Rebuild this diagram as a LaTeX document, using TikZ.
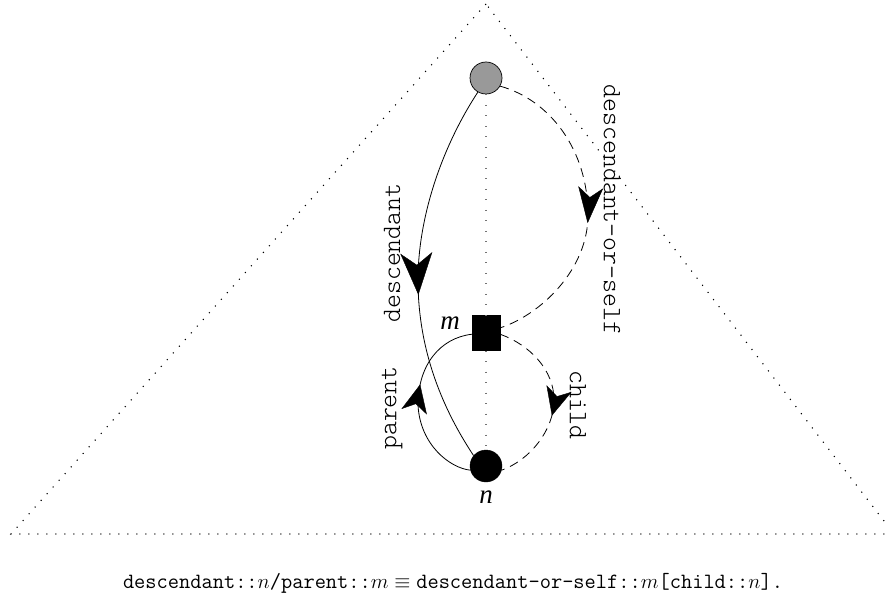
\documentclass[tikz,border=0pt]{standalone}
\usepackage{fontspec}
\newfontfamily\varfont{Liberation Serif}
\usetikzlibrary{arrows.meta,decorations.markings}

\tikzset{
  outline/.style={line width=1.1pt, dash pattern=on 1.1pt off 7.9pt},
  spine/.style={draw=black!55, line width=1.1pt, dash pattern=on 1.1pt off 9.4pt},
  axisedge/.style={line width=0.8pt},
  impliededge/.style={line width=0.8pt, dash pattern=on 9pt off 6pt},
  axislabel/.style={font=\ttfamily\fontseries{l}\selectfont\fontsize{26.5}{28}\selectfont, inner sep=0pt},
  varlabel/.style={font=\varfont\itshape\fontsize{27}{29}\selectfont, inner sep=0pt},
  bigtip/.style={decoration={markings, mark=at position #1 with {\arrow{Stealth[length=42pt,width=32pt,inset=12pt]}}}, decorate},
  midtip/.style={decoration={markings, mark=at position #1 with {\arrow{Stealth[length=36pt,width=25pt,inset=10pt]}}}, decorate},
  smalltip/.style={decoration={markings, mark=at position #1 with {\arrow{Stealth[length=28pt,width=26pt,inset=8pt]}}}, decorate},
}

\begin{document}
\begin{tikzpicture}[x=1pt, y=-1pt]
\useasboundingbox (0,0) rectangle (888,612);

% the tree outline
\begin{scope}
  \clip (0,0) rectangle (888,612);
  \draw[outline] (486,4) -- (11,534) -- (894,534) -- cycle;
\end{scope}

% the three nodes
\node[circle, draw, line width=0.7pt, fill=black!40, minimum size=32pt, inner sep=0pt] (top) at (486,78) {};
\node[draw, fill=black, minimum width=28pt, minimum height=35pt, inner sep=0pt] (m) at (486,333) {};
\node[circle, draw, fill=black, minimum size=32pt, inner sep=0pt] (n) at (486,466) {};

% vertical path from the root down to n
\draw[spine] (top.south) -- (m.north);
\draw[spine] (m.south) -- (n.north);

% descendant
\draw[axisedge] (top.240) .. controls (440,150) and (418,220) .. (418,280)
  .. controls (418,360) and (450,420) .. (n.140);
\path[bigtip=0.555] (top.240) .. controls (440,150) and (418,220) .. (418,280)
  .. controls (418,360) and (450,420) .. (n.140);

% descendant-or-self
\draw[impliededge] (top.-30) .. controls (550,100) and (588,150) .. (588,215)
  .. controls (588,270) and (540,315) .. (m.20);
\path[midtip=0.55] (top.-30) .. controls (550,100) and (588,150) .. (588,215)
  .. controls (588,270) and (540,315) .. (m.20);

% parent
\draw[axisedge] (n.195) .. controls (450,468) and (420,445) .. (418,405)
  .. controls (418,365) and (440,338) .. (m.185);
\path[smalltip=0.59] (n.195) .. controls (450,468) and (420,445) .. (418,405)
  .. controls (418,365) and (440,338) .. (m.185);

% child
\draw[impliededge] (m.-5) .. controls (530,345) and (554,370) .. (554,400)
  .. controls (554,430) and (530,460) .. (n.-15);
\path[smalltip=0.58] (m.-5) .. controls (530,345) and (554,370) .. (554,400)
  .. controls (554,430) and (530,460) .. (n.-15);

% axis labels
\node[axislabel, rotate=90] (ldesc) at (392,253) {descendant};
\node[axislabel, rotate=-90] (ldos) at (612,210) {descendant-or-self};
\node[axislabel, rotate=90] (lpar) at (392,408) {parent};
\node[axislabel, rotate=-90] (lchild) at (578,405) {child};

% variable labels
\node[varlabel] (lm) at (450,323) {m};
\node[varlabel] (ln) at (486,497) {n};

% the equivalence
\node[inner sep=0pt, font=\fontsize{21.8}{24}\selectfont] (eq) at (453,583)
  {\texttt{descendant::}$n$\texttt{/parent::}$m\equiv{}$\texttt{descendant-or-self::}$m$\texttt{[child::}$n$\texttt{].}};
\end{tikzpicture}
\end{document}
